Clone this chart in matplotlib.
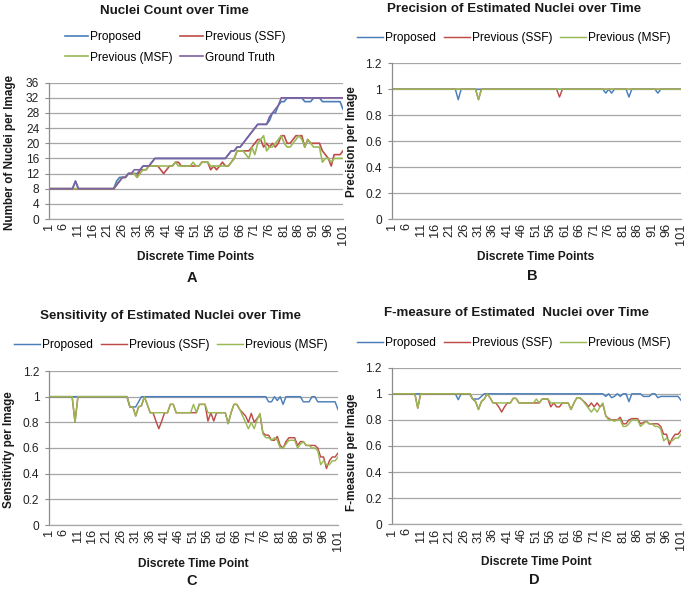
import numpy as np
import matplotlib
matplotlib.use("Agg")
import matplotlib.pyplot as plt

plt.rcParams['font.family'] = ['Liberation Sans', 'DejaVu Sans']

# ---------------- data ----------------
time_points = list(range(1, 102))
tick_labels = [str(v) for v in range(1, 102, 5)]

# Panel A: nuclei counts
count_ground_truth = [
    8, 8, 8, 8, 8, 8, 8, 8, 8, 10,
    8, 8, 8, 8, 8, 8, 8, 8, 8, 8,
    8, 8, 8, 9, 10, 11, 11, 12, 12, 13,
    13, 13, 14, 14, 14, 15, 16, 16, 16, 16,
    16, 16, 16, 16, 16, 16, 16, 16, 16, 16,
    16, 16, 16, 16, 16, 16, 16, 16, 16, 16,
    16, 17, 18, 18, 19, 19, 20, 21, 22, 23,
    24, 25, 25, 25, 25, 27, 28, 29, 30, 32,
    32, 32, 32, 32, 32, 32, 32, 32, 32, 32,
    32, 32, 32, 32, 32, 32, 32, 32, 32, 32,
    32]
count_proposed = [
    8, 8, 8, 8, 8, 8, 8, 8, 8, 10,
    8, 8, 8, 8, 8, 8, 8, 8, 8, 8,
    8, 8, 8, 10, 11, 11, 11, 12, 12, 12,
    12, 13, 14, 14, 14, 15, 16, 16, 16, 16,
    16, 16, 16, 16, 16, 16, 16, 16, 16, 16,
    16, 16, 16, 16, 16, 16, 16, 16, 16, 16,
    16, 17, 18, 18, 19, 19, 20, 21, 22, 23,
    24, 25, 25, 25, 25, 26, 28, 28, 30, 31,
    31, 32, 32, 32, 32, 32, 32, 31, 31, 31,
    32, 32, 32, 31, 31, 31, 31, 31, 31, 31,
    29]
count_ssf = [
    8, 8, 8, 8, 8, 8, 8, 8, 8, 8,
    8, 8, 8, 8, 8, 8, 8, 8, 8, 8,
    8, 8, 8, 9, 10, 11, 11, 12, 12, 12,
    11, 13, 13, 13, 14, 14, 14, 14, 13, 12,
    13, 14, 14, 15, 15, 14, 14, 14, 14, 14,
    14, 14, 15, 15, 15, 13, 14, 13, 14, 15,
    14, 14, 15, 16, 18, 18, 18, 18, 18, 19,
    20, 21, 21, 19, 20, 19, 20, 19, 20, 22,
    22, 20, 20, 21, 22, 22, 22, 19, 21, 20,
    20, 20, 20, 18, 17, 16, 14, 17, 17, 17,
    18]
count_msf = [
    8, 8, 8, 8, 8, 8, 8, 8, 8, 8,
    8, 8, 8, 8, 8, 8, 8, 8, 8, 8,
    8, 8, 8, 9, 10, 11, 11, 12, 12, 12,
    11, 12, 13, 13, 14, 14, 14, 14, 14, 14,
    14, 14, 14, 15, 14, 14, 14, 14, 14, 15,
    14, 14, 15, 15, 15, 14, 14, 14, 14, 14,
    14, 14, 15, 16, 18, 18, 18, 17, 16, 19,
    17, 20, 21, 22, 18, 19, 19, 20, 21, 22,
    20, 19, 19, 20, 21, 22, 21, 19, 21, 20,
    19, 19, 19, 15, 16, 16, 15, 16, 16, 16,
    16]

# Panel B: precision
prec_proposed = [
    1, 1, 1, 1, 1, 1, 1, 1, 1, 1,
    1, 1, 1, 1, 1, 1, 1, 1, 1, 1,
    1, 1, 1, 0.92, 1, 1, 1, 1, 1, 1,
    1, 1, 1, 1, 1, 1, 1, 1, 1, 1,
    1, 1, 1, 1, 1, 1, 1, 1, 1, 1,
    1, 1, 1, 1, 1, 1, 1, 1, 1, 1,
    1, 1, 1, 1, 1, 1, 1, 1, 1, 1,
    1, 1, 1, 1, 0.97, 1, 0.97, 1, 1, 1,
    1, 1, 0.94, 1, 1, 1, 1, 1, 1, 1,
    1, 1, 0.97, 1, 1, 1, 1, 1, 1, 1,
    1]
prec_ssf = [
    1, 1, 1, 1, 1, 1, 1, 1, 1, 1,
    1, 1, 1, 1, 1, 1, 1, 1, 1, 1,
    1, 1, 1, 1, 1, 1, 1, 1, 1, 1,
    0.92, 1, 1, 1, 1, 1, 1, 1, 1, 1,
    1, 1, 1, 1, 1, 1, 1, 1, 1, 1,
    1, 1, 1, 1, 1, 1, 1, 1, 0.94, 1,
    1, 1, 1, 1, 1, 1, 1, 1, 1, 1,
    1, 1, 1, 1, 1, 1, 1, 1, 1, 1,
    1, 1, 1, 1, 1, 1, 1, 1, 1, 1,
    1, 1, 1, 1, 1, 1, 1, 1, 1, 1,
    1]
prec_msf = [
    1, 1, 1, 1, 1, 1, 1, 1, 1, 1,
    1, 1, 1, 1, 1, 1, 1, 1, 1, 1,
    1, 1, 1, 1, 1, 1, 1, 1, 1, 1,
    0.92, 1, 1, 1, 1, 1, 1, 1, 1, 1,
    1, 1, 1, 1, 1, 1, 1, 1, 1, 1,
    1, 1, 1, 1, 1, 1, 1, 1, 1, 1,
    1, 1, 1, 1, 1, 1, 1, 1, 1, 1,
    1, 1, 1, 1, 1, 1, 1, 1, 1, 1,
    1, 1, 1, 1, 1, 1, 1, 1, 1, 1,
    1, 1, 1, 1, 1, 1, 1, 1, 1, 1,
    1]

# Panel C: sensitivity
sens_proposed = [
    1, 1, 1, 1, 1, 1, 1, 1, 1, 1,
    1, 1, 1, 1, 1, 1, 1, 1, 1, 1,
    1, 1, 1, 1, 1, 1, 1, 1, 0.92, 0.92,
    0.92, 0.96, 1, 1, 1, 1, 1, 1, 1, 1,
    1, 1, 1, 1, 1, 1, 1, 1, 1, 1,
    1, 1, 1, 1, 1, 1, 1, 1, 1, 1,
    1, 1, 1, 1, 1, 1, 1, 1, 1, 1,
    1, 1, 1, 1, 1, 1, 0.96, 0.96, 1, 0.97,
    1, 0.94, 1, 1, 1, 1, 1, 1, 0.96, 0.96,
    0.96, 1, 1, 0.96, 0.96, 0.96, 0.96, 0.96, 0.96, 0.96,
    0.9]
sens_ssf = [
    1, 1, 1, 1, 1, 1, 1, 1, 1, 0.8,
    1, 1, 1, 1, 1, 1, 1, 1, 1, 1,
    1, 1, 1, 1, 1, 1, 1, 1, 0.92, 0.92,
    0.85, 0.92, 0.93, 1, 0.94, 0.875, 0.875, 0.81, 0.75, 0.81,
    0.875, 0.875, 0.94, 0.94, 0.875, 0.875, 0.875, 0.875, 0.875, 0.875,
    0.875, 0.875, 0.94, 0.94, 0.94, 0.81, 0.875, 0.81, 0.875, 0.875,
    0.875, 0.875, 0.79, 0.875, 0.94, 0.94, 0.9, 0.875, 0.85, 0.8,
    0.87, 0.8, 0.83, 0.86, 0.72, 0.7, 0.7, 0.66, 0.66, 0.69,
    0.62, 0.6, 0.65, 0.68, 0.68, 0.68, 0.62, 0.65, 0.65, 0.62,
    0.62, 0.62, 0.62, 0.6, 0.53, 0.53, 0.44, 0.5, 0.53, 0.53,
    0.56]
sens_msf = [
    1, 1, 1, 1, 1, 1, 1, 1, 1, 0.8,
    1, 1, 1, 1, 1, 1, 1, 1, 1, 1,
    1, 1, 1, 1, 1, 1, 1, 1, 0.92, 0.92,
    0.85, 0.92, 0.93, 1, 0.94, 0.875, 0.875, 0.875, 0.875, 0.875,
    0.875, 0.875, 0.94, 0.94, 0.875, 0.875, 0.875, 0.875, 0.875, 0.875,
    0.94, 0.875, 0.94, 0.94, 0.94, 0.875, 0.875, 0.875, 0.875, 0.875,
    0.875, 0.875, 0.79, 0.875, 0.94, 0.94, 0.9, 0.85, 0.8, 0.75,
    0.8, 0.75, 0.82, 0.87, 0.71, 0.68, 0.68, 0.66, 0.68, 0.66,
    0.6, 0.6, 0.63, 0.66, 0.66, 0.66, 0.6, 0.63, 0.65, 0.62,
    0.62, 0.6, 0.6, 0.58, 0.47, 0.5, 0.47, 0.47, 0.5, 0.5,
    0.53]

# Panel D: F-measure
fm_proposed = [
    1, 1, 1, 1, 1, 1, 1, 1, 1, 1,
    1, 1, 1, 1, 1, 1, 1, 1, 1, 1,
    1, 1, 1, 0.955, 1, 1, 1, 1, 0.96, 0.96,
    0.96, 0.98, 1, 1, 1, 1, 1, 1, 1, 1,
    1, 1, 1, 1, 1, 1, 1, 1, 1, 1,
    1, 1, 1, 1, 1, 1, 1, 1, 1, 1,
    1, 1, 1, 1, 1, 1, 1, 1, 1, 1,
    1, 1, 1, 1, 0.98, 1, 0.97, 0.98, 1, 0.98,
    1, 1, 0.94, 1, 1, 1, 1, 0.98, 0.98, 0.98,
    1, 1, 0.97, 0.98, 0.98, 0.98, 0.98, 0.98, 0.98, 0.98,
    0.95]
fm_ssf = [
    1, 1, 1, 1, 1, 1, 1, 1, 1, 0.89,
    1, 1, 1, 1, 1, 1, 1, 1, 1, 1,
    1, 1, 1, 1, 1, 1, 1, 1, 0.96, 0.94,
    0.88, 0.94, 0.96, 1, 0.97, 0.93, 0.93, 0.9, 0.86, 0.9,
    0.93, 0.93, 0.965, 0.965, 0.93, 0.93, 0.93, 0.93, 0.93, 0.93,
    0.93, 0.93, 0.96, 0.96, 0.96, 0.9, 0.93, 0.9, 0.9, 0.93,
    0.93, 0.93, 0.88, 0.93, 0.97, 0.97, 0.95, 0.93, 0.9, 0.93,
    0.9, 0.93, 0.9, 0.92, 0.83, 0.81, 0.8, 0.8, 0.8, 0.82,
    0.77, 0.77, 0.8, 0.81, 0.81, 0.81, 0.77, 0.78, 0.79, 0.77,
    0.77, 0.77, 0.77, 0.75, 0.69, 0.69, 0.61, 0.66, 0.69, 0.69,
    0.72]
fm_msf = [
    1, 1, 1, 1, 1, 1, 1, 1, 1, 0.89,
    1, 1, 1, 1, 1, 1, 1, 1, 1, 1,
    1, 1, 1, 1, 1, 1, 1, 1, 0.96, 0.94,
    0.88, 0.94, 0.96, 1, 0.97, 0.93, 0.93, 0.93, 0.93, 0.93,
    0.93, 0.93, 0.965, 0.965, 0.93, 0.93, 0.93, 0.93, 0.93, 0.93,
    0.96, 0.93, 0.96, 0.96, 0.96, 0.93, 0.93, 0.93, 0.93, 0.93,
    0.93, 0.93, 0.88, 0.93, 0.97, 0.97, 0.95, 0.92, 0.89, 0.86,
    0.89, 0.86, 0.9, 0.93, 0.83, 0.8, 0.8, 0.79, 0.8, 0.8,
    0.75, 0.75, 0.77, 0.8, 0.8, 0.8, 0.75, 0.77, 0.79, 0.77,
    0.77, 0.75, 0.75, 0.73, 0.64, 0.66, 0.64, 0.64, 0.66, 0.66,
    0.69]

series_names = ['Proposed', 'Previous (SSF)', 'Previous (MSF)', 'Ground Truth']
series_colors = ['#4A7EBB', '#BE4B48', '#98B954', '#7D60A0']

# ---------------- layout ----------------
W, H = 688, 589
fig = plt.figure(figsize=(W / 100, H / 100), dpi=100)
fig.patch.set_facecolor('white')


def fx(x):
    return x / W


def fy(y):
    return 1 - y / H


GRID = '#A6A6A6'
AX = '#8C8C8C'
YTICK_FS = 8.6
XTICK_FS = 9.2
LEG_FS = 8.6
TITLE_FS = 9.6
YLAB_FS = 8.4
XLAB_FS = 8.6


def make_axes(l, t, r, b):
    return fig.add_axes([fx(l), fy(b), (r - l) / W, (b - t) / H])


def style(ax, ymax, ystep, fmt):
    ax.set_xlim(1, 101)
    ax.set_ylim(0, ymax)
    ticks = np.arange(0, ymax + ystep / 2, ystep)
    ax.set_yticks(ticks)
    ax.set_yticklabels([fmt(v) for v in ticks], fontsize=YTICK_FS, color='#222222')
    ax.set_xticks(range(1, 102, 5))
    ax.set_xticklabels(tick_labels, rotation=90, fontsize=XTICK_FS, color='#222222',
                       va='top', ha='center')
    ax.tick_params(axis='x', length=0, pad=3)
    ax.tick_params(axis='y', length=3, color=AX, pad=4, width=0.8)
    for s in ('top', 'right'):
        ax.spines[s].set_visible(False)
    ax.spines['left'].set_color(AX)
    ax.spines['bottom'].set_color(GRID)
    ax.spines['left'].set_linewidth(0.9)
    ax.spines['bottom'].set_linewidth(0.9)
    ax.grid(axis='y', color=GRID, linewidth=0.9)
    ax.set_axisbelow(True)


def fmt_int(v):
    return '%d' % round(v)


def fmt_dec(v):
    return ('%.1f' % v).rstrip('0').rstrip('.') if v != 0 else '0'


def txt(x, y, s, size, bold=True, rot=0):
    fig.text(fx(x), fy(y), s, ha='center', va='center', fontsize=size,
             fontweight='bold' if bold else 'normal', rotation=rot, color='#1a1a1a')


def legend(ax, handles, labels, x, y, ncol, hl, cs):
    ax.legend(handles, labels, ncol=ncol, loc='upper left',
              bbox_to_anchor=(fx(x), fy(y)), bbox_transform=fig.transFigure,
              frameon=False, borderpad=0, borderaxespad=0, handlelength=hl,
              handletextpad=0.15, columnspacing=cs, labelspacing=0.72,
              fontsize=LEG_FS)


LW = 1.05

# ---- Panel A ----
axA = make_axes(49, 82.7, 343, 219)
style(axA, 36, 4, fmt_int)
hA = []
for vals, c in zip([count_proposed, count_ssf, count_msf, count_ground_truth], series_colors):
    hA += axA.plot(time_points, vals, color=c, lw=LW + 0.15)
legend(axA, [hA[0], hA[2], hA[1], hA[3]],
       [series_names[0], series_names[2], series_names[1], series_names[3]],
       65, 31, 2, 1.95, 0.6)
txt(174, 11, 'Nuclei Count over Time', TITLE_FS)
txt(10, 152, 'Number of Nuclei per Image', YLAB_FS, rot=90)
txt(196, 257, 'Discrete Time Points', XLAB_FS)
txt(192, 278, 'A', 10.5)

# ---- Panel B ----
axB = make_axes(391.7, 63.3, 681, 219)
style(axB, 1.2, 0.2, fmt_dec)
hB = []
for vals, c in zip([prec_proposed, prec_ssf, prec_msf], series_colors):
    hB += axB.plot(time_points, vals, color=c, lw=LW)
legend(axB, hB, series_names[:3], 357, 32, 3, 2.2, 0.65)
txt(514.5, 9, 'Precision of Estimated Nuclei over Time', TITLE_FS)
txt(352, 142, 'Precision per Image', YLAB_FS, rot=90)
txt(536, 257, 'Discrete Time Points', XLAB_FS)
txt(532, 276, 'B', 10.5)

# ---- Panel C ----
axC = make_axes(49, 371, 338, 525)
style(axC, 1.2, 0.2, fmt_dec)
hC = []
for vals, c in zip([sens_proposed, sens_ssf, sens_msf], series_colors):
    hC += axC.plot(time_points, vals, color=c, lw=LW)
legend(axC, hC, series_names[:3], 14, 339, 3, 2.2, 0.65)
txt(171, 316, 'Sensitivity of Estimated Nuclei over Time', TITLE_FS)
txt(9.5, 450, 'Sensitivity per Image', YLAB_FS, rot=90)
txt(193, 564, 'Discrete Time Point', XLAB_FS)
txt(192, 581, 'C', 10.5)

# ---- Panel D ----
axD = make_axes(391.7, 367.7, 681, 524.3)
style(axD, 1.2, 0.2, fmt_dec)
hD = []
for vals, c in zip([fm_proposed, fm_ssf, fm_msf], series_colors):
    hD += axD.plot(time_points, vals, color=c, lw=LW)
legend(axD, hD, series_names[:3], 357, 337, 3, 2.2, 0.65)
txt(517, 313, 'F-measure of Estimated  Nuclei over Time', TITLE_FS)
txt(352, 452, 'F-measure per Image', YLAB_FS, rot=90)
txt(536, 562, 'Discrete Time Point', XLAB_FS)
txt(534, 580, 'D', 10.5)

fig.savefig('out.png', dpi=100, facecolor='white')
